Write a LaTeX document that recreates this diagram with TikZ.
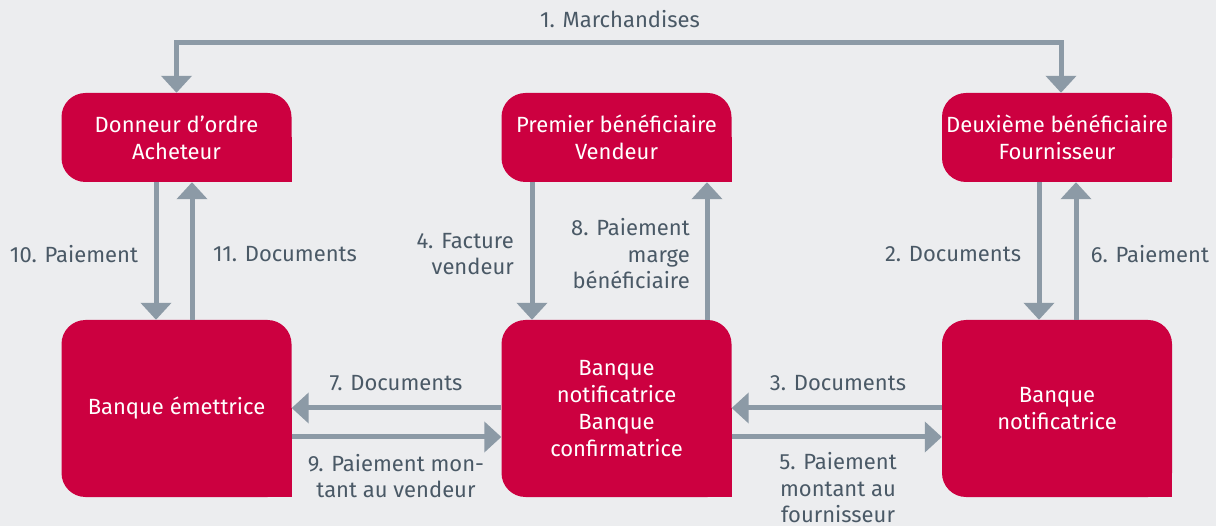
\documentclass[tikz,border=0pt]{standalone}
\usepackage{fontspec}
\setmainfont{Fira Sans}
\usetikzlibrary{arrows.meta,positioning,backgrounds}
\definecolor{lcRed}{HTML}{CC0040}
\definecolor{lcArrow}{HTML}{8C9AA6}
\definecolor{lcInk}{HTML}{4A5966}
\definecolor{lcBack}{HTML}{ECEDEF}

\tikzset{
  party/.style={fill=lcRed,text=white,rounded corners=24pt,inner sep=0pt,
                minimum width=230pt,minimum height=89pt,align=center,
                font=\fontsize{22}{27}\selectfont},
  bank/.style={party,minimum height=177pt},
  flow/.style={draw=lcArrow,line width=5pt,-{Triangle[length=17pt,width=30pt]}},
  lbl/.style={text=lcInk,inner sep=0pt,font=\fontsize{22}{26.5}\selectfont}
}

\begin{document}
\begin{tikzpicture}[x=1pt,y=-1pt]
  % parties and banks
  \node[party] (buyer)    at (176.5,137.5) {Donneur d’ordre\\Acheteur};
  \node[party] (seller)   at (616.5,137.5) {Premier bénéficiaire\\Vendeur};
  \node[party] (supplier) at (1057,137.5)  {Deuxième bénéficiaire\\Fournisseur};
  \node[bank]  (issuer)     at (176.5,408.5) {Banque émettrice};
  \node[bank]  (confirming) at (616.5,408.5) {Banque\\notificatrice\\Banque\\confirmatrice};
  \node[bank]  (advising)   at (1057,408.5)  {Banque\\notificatrice};

  % square lower right corners, page background
  \begin{scope}[on background layer]
    \fill[lcBack] (0,0) rectangle (1216,526);
    \foreach \n in {buyer,seller,supplier,issuer,confirming,advising}
      \fill[lcRed] (\n.center) rectangle (\n.south east);
  \end{scope}

  % 1. goods
  \coordinate (goods) at (620,43);
  \draw[flow,{Triangle[length=17pt,width=30pt]}-{Triangle[length=17pt,width=30pt]}]
    (buyer.north) |- (goods) -| ([xshift=4pt]supplier.north);
  \node[lbl] (goodsLbl) at (620,19) {1. Marchandises};

  % buyer <-> issuing bank
  \draw[flow] ([xshift=-20.5pt]buyer.south) -- ([xshift=-20.5pt]issuer.north);
  \draw[flow] ([xshift=15.5pt]issuer.north) -- ([xshift=15.5pt]buyer.south);
  \node[lbl] (payBuyer) at (74,254) {10. Paiement};
  \node[lbl] (docBuyer) at (285,254) {11. Documents};

  % seller <-> confirming bank
  \draw[flow] ([xshift=-84.5pt]seller.south) -- ([xshift=-84.5pt]confirming.north);
  \draw[flow] ([xshift=90.5pt]confirming.north) -- ([xshift=90.5pt]seller.south);
  \node[lbl,anchor=east,align=right] (invSeller) at (514,254) {4. Facture\\vendeur};
  \node[lbl,anchor=east,align=right] (paySeller) at (690,254) {8. Paiement\\marge\\bénéficiaire};

  % supplier <-> advising bank
  \draw[flow] ([xshift=-18pt]supplier.south) -- ([xshift=-18pt]advising.north);
  \draw[flow] ([xshift=19pt]advising.north) -- ([xshift=19pt]supplier.south);
  \node[lbl] (docSupplier) at (953,254) {2. Documents};
  \node[lbl] (paySupplier) at (1150,254) {6. Paiement};

  % between the banks
  \draw[flow] ([yshift=0.5pt]confirming.west) -- ([yshift=0.5pt]issuer.east);
  \draw[flow] ([yshift=-28.5pt]issuer.east) -- ([yshift=-28.5pt]confirming.west);
  \draw[flow] ([yshift=0.5pt]advising.west) -- ([yshift=0.5pt]confirming.east);
  \draw[flow] ([yshift=-28.5pt]confirming.east) -- ([yshift=-28.5pt]advising.west);
  \node[lbl] (docIssuer) at (396,383) {7. Documents};
  \node[lbl,align=center] (payIssuer) at (396,476) {9. Paiement mon-\\tant au vendeur};
  \node[lbl] (docAdvising) at (838,383) {3. Documents};
  \node[lbl,align=center] (payAdvising) at (838,488) {5. Paiement\\montant au\\fournisseur};
\end{tikzpicture}
\end{document}
